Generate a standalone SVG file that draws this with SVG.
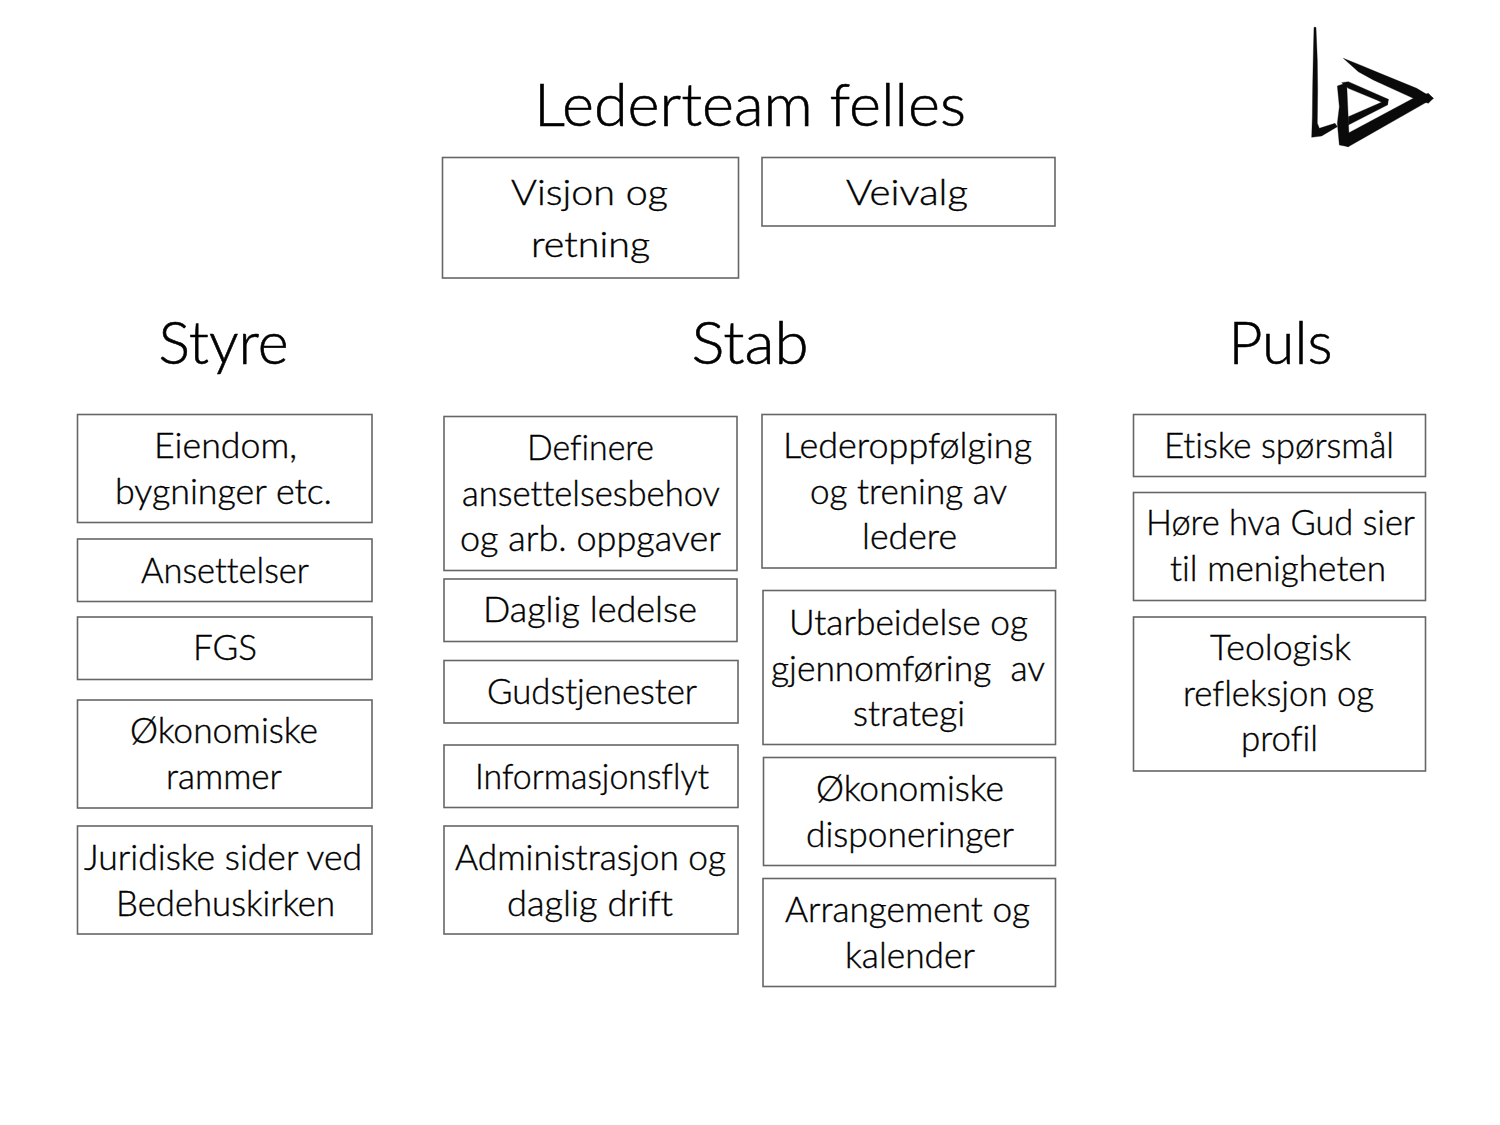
<svg xmlns="http://www.w3.org/2000/svg" width="1500" height="1125" viewBox="0 0 1500 1125">
<style>
.b{fill:#fff;stroke:#666;stroke-width:1.6}
text{font-family:"Lato","Noto Sans",sans-serif;fill:#000;stroke:#000;stroke-width:.4;text-anchor:middle;font-weight:300;font-variant-ligatures:none}
.t{font-size:35px;transform:translateY(-.5px)}
.h{font-size:60px;stroke-width:.6}
.lg{fill:#0a0a0a;stroke:#0a0a0a;stroke-width:1;stroke-linejoin:round}
</style>
<rect width="1500" height="1125" fill="#fff"/>
<g id="logo" transform="translate(1280 10) scale(.33333)">
<path class="lg" d="M102 52L108 52L112 150L113 240L112 340L118 355L165 340L172 350L125 378L95 382L97 320L98 230L100 130Z"/>
<path class="lg" d="M190 145L240 165L300 190L410 235L460 265L445 280L400 265L280 210L235 185Z"/>
<path class="lg" d="M445 250L460 265L205 410L180 400L200 372L400 265Z"/>
<path class="lg" d="M172 228L200 218L207 375L205 410L178 405L172 340L178 290Z"/>
<path class="lg" d="M185 218L205 215L325 268L322 285L290 270L205 235Z"/>
<path class="lg" d="M325 268L322 285L205 345L205 320Z"/>
</g>
<g id="title-lederteam"><text class="h" x="750" y="126" textLength="432" lengthAdjust="spacingAndGlyphs">Lederteam felles</text></g>
<g id="title-styre"><text class="h" x="223.500" y="364" textLength="130" lengthAdjust="spacingAndGlyphs">Styre</text></g>
<g id="title-stab"><text class="h" x="750" y="364" textLength="117" lengthAdjust="spacingAndGlyphs">Stab</text></g>
<g id="title-puls"><text class="h" x="1280.500" y="364" textLength="104" lengthAdjust="spacingAndGlyphs">Puls</text></g>
<g id="n1"><rect class="b" x="442.500" y="157.500" width="296" height="120.500"/><text class="t" x="589.500" y="205" textLength="157" lengthAdjust="spacingAndGlyphs">Visjon og</text><text class="t" x="590.500" y="257" textLength="119" lengthAdjust="spacingAndGlyphs">retning</text></g>
<g id="n2"><rect class="b" x="762" y="157.500" width="293" height="68.500"/><text class="t" x="907" y="205" textLength="122" lengthAdjust="spacingAndGlyphs">Veivalg</text></g>
<g id="n3"><rect class="b" x="77.500" y="414.500" width="294.500" height="108"/><text class="t" x="225.500" y="458" textLength="143" lengthAdjust="spacingAndGlyphs">Eiendom,</text><text class="t" x="223.500" y="504" textLength="217" lengthAdjust="spacingAndGlyphs">bygninger etc.</text></g>
<g id="n4"><rect class="b" x="77.500" y="539" width="294.500" height="62.500"/><text class="t" x="225" y="583" textLength="168" lengthAdjust="spacingAndGlyphs">Ansettelser</text></g>
<g id="n5"><rect class="b" x="77.500" y="617" width="294.500" height="62.500"/><text class="t" x="225" y="660" textLength="64" lengthAdjust="spacingAndGlyphs">FGS</text></g>
<g id="n6"><rect class="b" x="77.500" y="700" width="294.500" height="108"/><text class="t" x="224" y="743" textLength="188" lengthAdjust="spacingAndGlyphs">Økonomiske</text><text class="t" x="224" y="789" textLength="116" lengthAdjust="spacingAndGlyphs">rammer</text></g>
<g id="n7"><rect class="b" x="77.500" y="826" width="294.500" height="108"/><text class="t" x="223" y="870" textLength="278" lengthAdjust="spacingAndGlyphs">Juridiske sider ved</text><text class="t" x="225.500" y="916" textLength="219" lengthAdjust="spacingAndGlyphs">Bedehuskirken</text></g>
<g id="n8"><rect class="b" x="444" y="416.500" width="293" height="154"/><text class="t" x="590.500" y="460" textLength="127" lengthAdjust="spacingAndGlyphs">Definere</text><text class="t" x="591" y="506" textLength="258" lengthAdjust="spacingAndGlyphs">ansettelsesbehov</text><text class="t" x="590.500" y="551" textLength="261" lengthAdjust="spacingAndGlyphs">og arb. oppgaver</text></g>
<g id="n9"><rect class="b" x="444" y="579" width="293" height="62.500"/><text class="t" x="590" y="622" textLength="214" lengthAdjust="spacingAndGlyphs">Daglig ledelse</text></g>
<g id="n10"><rect class="b" x="444" y="660.500" width="294" height="62.500"/><text class="t" x="592" y="704" textLength="210" lengthAdjust="spacingAndGlyphs">Gudstjenester</text></g>
<g id="n11"><rect class="b" x="444" y="745" width="294" height="62.500"/><text class="t" x="592" y="789" textLength="234" lengthAdjust="spacingAndGlyphs">Informasjonsflyt</text></g>
<g id="n12"><rect class="b" x="444" y="826" width="294" height="108"/><text class="t" x="590.500" y="870" textLength="271" lengthAdjust="spacingAndGlyphs">Administrasjon og</text><text class="t" x="590" y="916" textLength="166" lengthAdjust="spacingAndGlyphs">daglig drift</text></g>
<g id="n13"><rect class="b" x="762" y="414.500" width="294" height="153.500"/><text class="t" x="907.500" y="458" textLength="249" lengthAdjust="spacingAndGlyphs">Lederoppfølging</text><text class="t" x="908.500" y="504" textLength="197" lengthAdjust="spacingAndGlyphs">og trening av</text><text class="t" x="909.500" y="549" textLength="95" lengthAdjust="spacingAndGlyphs">ledere</text></g>
<g id="n14"><rect class="b" x="763" y="590.500" width="292.500" height="154"/><text class="t" x="908.500" y="635" textLength="239" lengthAdjust="spacingAndGlyphs">Utarbeidelse og</text><text class="t" x="908" y="681" textLength="274" lengthAdjust="spacingAndGlyphs" xml:space="preserve">gjennomføring  av</text><text class="t" x="909" y="726" textLength="112" lengthAdjust="spacingAndGlyphs">strategi</text></g>
<g id="n15"><rect class="b" x="763.500" y="757.500" width="292" height="108"/><text class="t" x="910" y="801" textLength="188" lengthAdjust="spacingAndGlyphs">Økonomiske</text><text class="t" x="910" y="847" textLength="208" lengthAdjust="spacingAndGlyphs">disponeringer</text></g>
<g id="n16"><rect class="b" x="763" y="878.500" width="292.500" height="108"/><text class="t" x="907.500" y="922" textLength="245" lengthAdjust="spacingAndGlyphs">Arrangement og</text><text class="t" x="910" y="968" textLength="130" lengthAdjust="spacingAndGlyphs">kalender</text></g>
<g id="n17"><rect class="b" x="1133.500" y="414.500" width="292" height="62"/><text class="t" x="1279" y="458" textLength="230" lengthAdjust="spacingAndGlyphs">Etiske spørsmål</text></g>
<g id="n18"><rect class="b" x="1133.500" y="492.500" width="292" height="108"/><text class="t" x="1280.500" y="535" textLength="269" lengthAdjust="spacingAndGlyphs">Høre hva Gud sier</text><text class="t" x="1278" y="581" textLength="216" lengthAdjust="spacingAndGlyphs">til menigheten</text></g>
<g id="n19"><rect class="b" x="1133.500" y="617" width="292" height="154"/><text class="t" x="1280.500" y="660" textLength="141" lengthAdjust="spacingAndGlyphs">Teologisk</text><text class="t" x="1278.500" y="706" textLength="191" lengthAdjust="spacingAndGlyphs">refleksjon og</text><text class="t" x="1279.500" y="751" textLength="77" lengthAdjust="spacingAndGlyphs">profil</text></g>
<g id="connectors"></g>
</svg>
